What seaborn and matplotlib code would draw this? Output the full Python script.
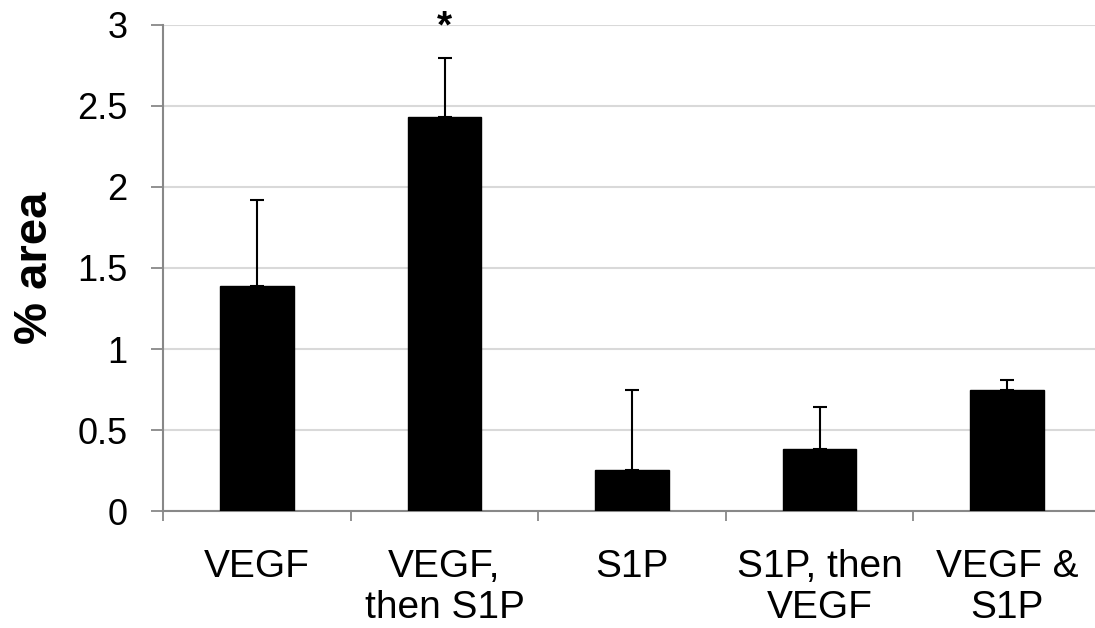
import numpy as np
import pandas as pd
import seaborn as sns
import matplotlib
matplotlib.use("Agg")
import matplotlib.pyplot as plt
from matplotlib.ticker import FixedLocator

# values
groups = ["VEGF", "VEGF,\nthen S1P", "S1P", "S1P, then\nVEGF", "VEGF &\nS1P"]
area_mean = [1.39, 2.43, 0.255, 0.38, 0.75]
area_err = [0.53, 0.365, 0.49, 0.26, 0.06]
y_ticks = [0, 0.5, 1, 1.5, 2, 2.5, 3]
y_tick_labels = ["0", "0.5", "1", "1.5", "2", "2.5", "3"]
signif_group = 1

df = pd.DataFrame({"group": groups, "area": area_mean, "err": area_err})

sns.set_style("white")
plt.rcParams["font.family"] = ["Liberation Sans", "DejaVu Sans"]
plt.rcParams["text.color"] = "black"
plt.rcParams["xtick.labelcolor"] = "black"
plt.rcParams["ytick.labelcolor"] = "black"
plt.rcParams["axes.labelcolor"] = "black"

fig = plt.figure(figsize=(10.95, 6.28), dpi=100)
ax = fig.add_axes([0.1491, 0.1863, 0.8509, 0.7739])

sns.barplot(data=df, x="group", y="area", color="black", width=0.39,
            errorbar=None, saturation=1, edgecolor="black", ax=ax, zorder=3)

# one-sided (upper) error bars like the original
xpos = np.arange(len(groups))
ax.errorbar(xpos, df["area"], yerr=[np.zeros(len(groups)), df["err"]],
            fmt="none", ecolor="black", elinewidth=1.5, capsize=5,
            capthick=1.5, zorder=2)

ax.text(signif_group, 2.985, "*", ha="center", va="center",
        fontsize=28, fontweight="bold", color="black", clip_on=False)

ax.set_ylim(0, 3)
ax.set_xlim(-0.5, 4.469)
ax.set_yticks(y_ticks)
ax.set_yticklabels(y_tick_labels)
ax.yaxis.grid(True, color="#d9d9d9", linewidth=1.5, zorder=0)
ax.set_axisbelow(True)

# category boundaries get the visible tick marks
ax.xaxis.set_minor_locator(FixedLocator(np.arange(-0.5, len(groups), 1.0)))
ax.tick_params(axis="x", which="major", length=0, pad=27, labelsize=28)
ax.tick_params(axis="x", which="minor", length=7, width=1.3,
               color="#888888", direction="out", bottom=True)
ax.tick_params(axis="y", length=9, width=1.3, color="#888888",
               direction="out", left=True, pad=16.5, labelsize=26)
for lbl in ax.get_xticklabels():
    lbl.set_linespacing(1.2)

for side in ["top", "right"]:
    ax.spines[side].set_visible(False)
for side in ["left", "bottom"]:
    ax.spines[side].set_color("#888888")
    ax.spines[side].set_linewidth(1.5)

ax.set_xlabel("")
ax.set_ylabel("% area", fontsize=34, fontweight="bold")
ax.yaxis.set_label_coords(-0.114, 0.5)

fig.savefig("out.png", dpi=100)
